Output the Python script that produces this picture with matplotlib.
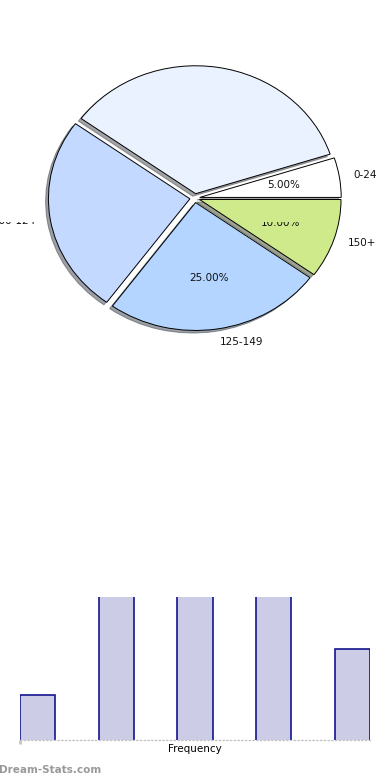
import matplotlib
matplotlib.use("Agg")
import matplotlib.pyplot as plt
from matplotlib.patches import Rectangle

# Age groups and their counts
groups = ["0-24", "25-99", "100-124", "125-149", "150+"]
counts = [1, 7, 5, 5, 2]
slice_colors = ["#ffffff", "#eaf1ff", "#c4d9ff", "#b3d5ff", "#ceea8a"]

# Frequency bars
bar_positions = [0, 1, 2, 3, 4]
bar_heights = [1, 7, 5, 5, 2]

plt.rcParams["font.family"] = ["DejaVu Sans"]

fig = plt.figure(figsize=(3.9, 7.8), dpi=100)

# ---- pie ----
ax = fig.add_axes([0.046, 0.541, 0.907, 0.410])
wedges, texts, autotexts = ax.pie(
    counts,
    labels=groups,
    colors=slice_colors,
    explode=[0.035] * len(counts),
    autopct="%.2f%%",
    shadow={"ox": -0.0144, "oy": -0.0144},
    startangle=0,
    wedgeprops={"edgecolor": "black", "linewidth": 0.7},
    textprops={"fontsize": 7.5, "color": "#111111"},
)
ax.set_aspect("auto")
ax.set_xlim(-1.25, 1.25)
ax.set_ylim(-1.25, 1.25)

# texts that are not shown
texts[1].set_visible(False)
autotexts[1].set_visible(False)
autotexts[2].set_visible(False)

# partially hidden texts: keep only the part below a horizontal line
cut = (780 - 222) / 780
for txt in (texts[2], autotexts[4]):
    keep = Rectangle((-0.5, -0.5), 2.0, cut + 0.5, transform=fig.transFigure,
                     facecolor="none", edgecolor="none")
    txt.set_clip_on(True)
    txt.set_clip_path(keep)

# ---- bars ----
bx = fig.add_axes([20 / 390, 40 / 780, 350 / 390, 143 / 780])
bx.bar(bar_positions, bar_heights, width=0.45, color="#ccccE6",
       edgecolor="#14148f", linewidth=1.2, zorder=1)
bx.set_xlim(-0.225, 4.225)
bx.set_ylim(0.012, 3.13)
for s in ("top", "right", "left"):
    bx.spines[s].set_visible(False)
bx.spines["bottom"].set_linestyle((0, (1, 2)))
bx.spines["bottom"].set_color("#c0c0c0")
bx.spines["bottom"].set_linewidth(0.9)
bx.spines["bottom"].set_zorder(3)
bx.set_yticks([])
bx.set_xticks([-0.225])
bx.set_xticklabels([])
bx.tick_params(axis="x", length=3, width=2, color="#c8c8c8")
bx.set_xlabel("Frequency", fontsize=7.5)
bx.xaxis.set_label_coords(0.5, -0.028)

fig.text(-0.003, 1 - 770 / 780, "Dream-Stats.com", fontsize=7.5,
         fontweight="bold", color="#999999", ha="left", va="center")

fig.savefig("out.png", dpi=100)
